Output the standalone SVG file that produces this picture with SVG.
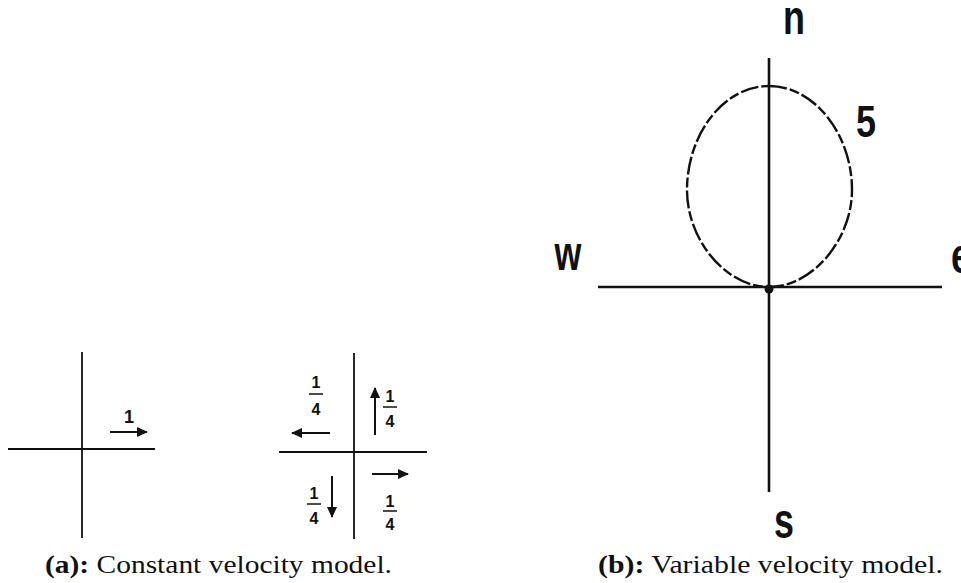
<svg xmlns="http://www.w3.org/2000/svg" width="961" height="583" viewBox="0 0 961 583">
<style>
.axis{stroke:#111;stroke-width:1.8;fill:none}
.axisb{stroke:#111;stroke-width:2.6;fill:none}
.arr{stroke:#111;stroke-width:2;fill:none;marker-end:url(#ah)}
.frac{font-family:"Liberation Sans",Arial,sans-serif;font-weight:bold;font-size:16px;fill:#111;text-anchor:middle}
.bar{stroke:#111;stroke-width:1.5}
.big{font-family:"Liberation Sans",Arial,sans-serif;font-weight:bold;font-size:46px;fill:#111;text-anchor:middle}
.cap{font-family:"Liberation Serif","Times New Roman",serif;font-size:25px;fill:#111}
</style>
<defs>
<marker id="ah" markerUnits="userSpaceOnUse" markerWidth="12" markerHeight="10" refX="10" refY="5" orient="auto">
<path d="M0,0 L11,5 L0,10 Z" fill="#111"/>
</marker>
</defs>
<rect width="961" height="583" fill="#fff"/>

<g id="panel-a-constant">
<line class="axis" x1="82" y1="352" x2="82" y2="538"/>
<line class="axis" x1="8" y1="449" x2="155" y2="449"/>
<g id="a-east">
<line class="arr" x1="110" y1="432" x2="147" y2="432"/>
<text class="frac" x="129" y="423" style="font-size:18px">1</text>
</g>
</g>

<g id="panel-a-quarters">
<line class="axis" x1="354" y1="353" x2="354" y2="539"/>
<line class="axis" x1="279" y1="452" x2="427" y2="452"/>
<g id="q-west">
<line class="arr" x1="330" y1="433" x2="292" y2="433"/>
<text class="frac" x="316" y="388">1</text>
<line class="bar" x1="309" y1="394" x2="323" y2="394"/>
<text class="frac" x="316" y="415">4</text>
</g>
<g id="q-north">
<line class="arr" x1="375" y1="435" x2="375" y2="388"/>
<text class="frac" x="390" y="402">1</text>
<line class="bar" x1="383" y1="407" x2="397" y2="407"/>
<text class="frac" x="390" y="427">4</text>
</g>
<g id="q-south">
<line class="arr" x1="332" y1="476" x2="332" y2="517"/>
<text class="frac" x="314" y="499">1</text>
<line class="bar" x1="307" y1="504" x2="321" y2="504"/>
<text class="frac" x="314" y="524">4</text>
</g>
<g id="q-east">
<line class="arr" x1="372" y1="474" x2="408" y2="474"/>
<text class="frac" x="390" y="507">1</text>
<line class="bar" x1="383" y1="511" x2="397" y2="511"/>
<text class="frac" x="390" y="530">4</text>
</g>
</g>

<g id="panel-b-variable">
<line class="axisb" x1="769" y1="58" x2="769" y2="492"/>
<line class="axisb" x1="598" y1="287" x2="942" y2="287"/>
<path d="M769,86 C815,86 852,135 852,190 C852,240 812,287 769,287 C726,287 687,240 687,190 C687,135 723,86 769,86 Z" fill="none" stroke="#111" stroke-width="2.4" stroke-dasharray="18 3 10 3"/>
<circle cx="769" cy="289" r="4.5" fill="#111"/>
<text class="big" transform="translate(794,34) scale(0.78,1.04)">n</text>
<text class="big" transform="translate(568,270) scale(0.75,1.04)">w</text>
<text class="big" transform="translate(961,273) scale(0.78,1.1)">e</text>
<text class="big" transform="translate(784,538) scale(0.78,1.08)">s</text>
<text class="big" transform="translate(866,137) scale(0.8,1)" style="font-size:45px">5</text>
</g>

<text class="cap" x="45" y="573" textLength="347" lengthAdjust="spacingAndGlyphs"><tspan font-weight="bold">(a):</tspan> Constant velocity model.</text>
<text class="cap" x="598" y="573" textLength="345" lengthAdjust="spacingAndGlyphs"><tspan font-weight="bold">(b):</tspan> Variable velocity model.</text>
</svg>
